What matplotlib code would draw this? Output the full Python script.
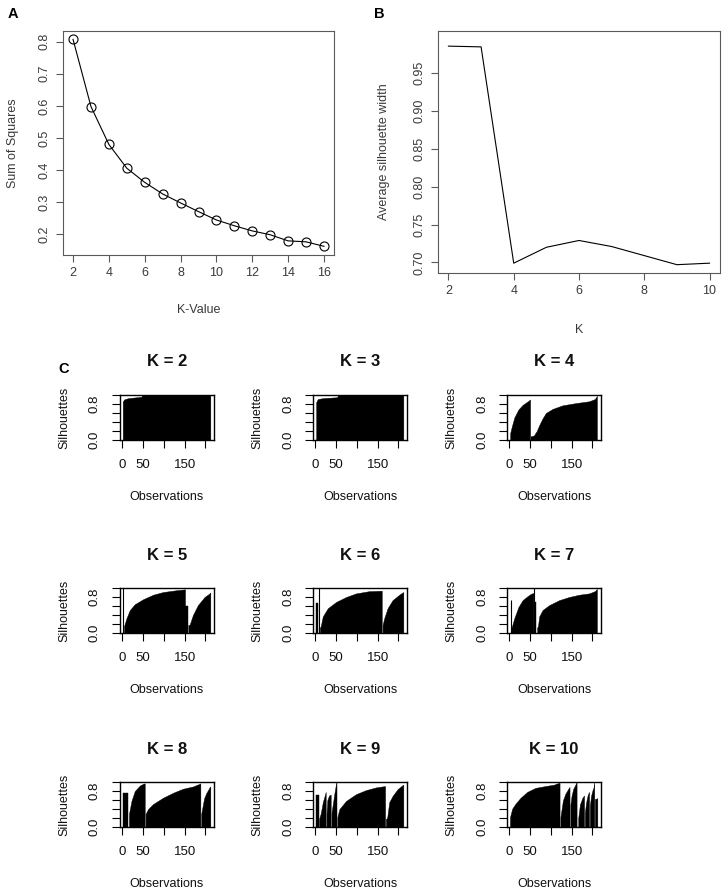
import matplotlib
matplotlib.use("Agg")
import matplotlib.pyplot as plt

plt.rcParams['font.family'] = ['Liberation Sans', 'DejaVu Sans']

# ---------------- data ----------------
# Panel A: elbow plot
k_values_A = [2, 3, 4, 5, 6, 7, 8, 9, 10, 11, 12, 13, 14, 15, 16]
sum_squares_A = [0.807, 0.598, 0.480, 0.406, 0.362, 0.326, 0.298, 0.271,
                 0.245, 0.227, 0.211, 0.199, 0.180, 0.177, 0.163]

# Panel B: average silhouette width
k_values_B = [2, 3, 4, 5, 6, 7, 8, 9, 10]
avg_sil_B = [0.986, 0.985, 0.699, 0.720, 0.729, 0.721, 0.709, 0.697, 0.699]

# Panel C: silhouette profiles (clusters of (observation, silhouette) points)
SIL_K2 = [
    [(1, 0.85), (4, 0.90), (14, 0.93), (46, 0.96), (47, 0.995), (212, 0.995)],
]
SIL_K3 = [
    [(2, 0.84), (6, 0.91), (18, 0.93), (53, 0.95), (54, 0.995), (212, 0.995)],
]
SIL_K4 = [
    [(2, 0.15), (6, 0.30), (12, 0.50), (22, 0.68), (32, 0.78), (46, 0.87), (50, 0.90)],
    [(51, 0.08), (59, 0.10), (66, 0.20), (72, 0.33), (80, 0.48), (88, 0.60), (104, 0.69),
     (128, 0.77), (160, 0.82), (192, 0.86), (206, 0.91), (211, 0.98)],
]
SIL_K5 = [
    [(2.5, 1.0)],
    [(4, 0.15), (10, 0.33), (18, 0.51), (30, 0.64), (50, 0.75), (74, 0.85), (98, 0.91),
     (130, 0.95), (151, 0.97)],
    [(152, 0.60), (157, 0.60)],
    [(159, 0.18), (162, 0.18), (170, 0.40), (182, 0.62), (198, 0.80), (210, 0.88), (212, 0.90)],
]
SIL_K6 = [
    [(2, 0.67), (6, 0.67)],
    [(9, 1.0)],
    [(11, 0.12), (13, 0.15), (18, 0.37), (30, 0.55), (50, 0.69), (74, 0.80), (98, 0.88),
     (130, 0.93), (160, 0.94)],
    [(162, 0.18), (166, 0.33), (174, 0.55), (186, 0.73), (202, 0.85), (210, 0.90), (212, 0.91)],
]
SIL_K7 = [
    [(3.5, 0.74)],
    [(5, 0.11), (12, 0.33), (22, 0.58), (32, 0.73), (44, 0.82), (52, 0.87), (58, 0.89)],
    [(59.5, 1.0)],
    [(60.5, 0.70), (65, 0.70)],
    [(67, 0.12), (69, 0.15), (72, 0.37), (80, 0.51), (96, 0.62), (120, 0.73), (144, 0.80),
     (168, 0.85), (192, 0.88), (206, 0.93), (211, 0.98)],
]
SIL_K8 = [
    [(2, 0.75), (14, 0.75)],
    [(16, 0.29), (22, 0.58), (30, 0.80), (42, 0.92), (50, 0.96), (54, 0.97)],
    [(56, 0.29), (62, 0.40), (74, 0.51), (98, 0.65), (122, 0.76), (146, 0.85), (170, 0.90),
     (186, 0.96), (188, 0.97)],
    [(190, 0.29), (197, 0.64), (202, 0.75), (210, 0.88), (212, 0.90)],
]
SIL_K9 = [
    [(2, 0.70), (8, 0.70)],
    [(9, 0.18), (13, 0.30), (18, 0.55), (22, 0.68), (25, 0.78)],
    [(27, 0.30), (29, 0.60), (33, 0.70), (37, 0.72)],
    [(39, 0.32), (42, 0.50), (46, 0.75), (50, 0.97), (51, 1.0)],
    [(53, 0.22), (58, 0.40), (74, 0.58), (98, 0.73), (122, 0.82), (146, 0.88), (168, 0.91)],
    [(170, 0.18), (173, 0.20), (178, 0.55), (186, 0.69), (198, 0.84), (210, 0.93), (212, 0.94)],
]
SIL_K10 = [
    [(1.6, 0.22), (7, 0.41), (15, 0.52), (27, 0.65), (43, 0.78), (63, 0.87), (87, 0.91),
     (107, 0.94), (119, 0.98), (121, 0.98)],
    [(123, 0.22), (126, 0.40), (129, 0.59), (135, 0.74), (142, 0.85), (145, 0.89)],
    [(147, 0.50), (150, 0.70), (154, 0.85), (158, 0.92), (162, 1.0)],
    [(166, 0.20), (170, 0.50), (176, 0.65), (180, 0.70)],
    [(182, 0.32), (185, 0.55), (189, 0.72), (192, 0.78)],
    [(194, 0.48), (197, 0.70), (201, 0.84), (203, 0.88), (204.5, 1.0)],
    [(206, 0.62), (212, 0.64)],
]
sil_panels = [("K = 2", SIL_K2), ("K = 3", SIL_K3), ("K = 4", SIL_K4),
              ("K = 5", SIL_K5), ("K = 6", SIL_K6), ("K = 7", SIL_K7),
              ("K = 8", SIL_K8), ("K = 9", SIL_K9), ("K = 10", SIL_K10)]

# ---------------- layout helpers ----------------
W, H = 724, 892
fig = plt.figure(figsize=(W / 100, H / 100), dpi=100)
PT = 72 / 100  # points per pixel


def add_box(left, top, width, height):
    return fig.add_axes([left / W, 1 - (top + height) / H, width / W, height / H])


GRAY_TXT = '#3a3a3a'
GRAY_LINE = '#5a5a5a'


def style_r(ax, color, lblcolor, size, tick_len_px, pad_px):
    for s in ax.spines.values():
        s.set_color(color)
        s.set_linewidth(0.8)
    ax.tick_params(direction='out', length=tick_len_px * PT, width=0.8, color=color,
                   labelcolor=lblcolor, labelsize=size, pad=pad_px * PT)
    for lab in ax.get_yticklabels():
        lab.set_rotation(90)
        lab.set_va('center')
        lab.set_ha('right')


# ---------------- Panel A ----------------
axA = add_box(63, 31, 271, 224)
axA.plot(k_values_A, sum_squares_A, color='black', lw=0.8, marker='o', mfc='none',
         mec='black', ms=6.5, mew=0.8)
axA.set_xlim(1.44, 16.56)
axA.set_ylim(0.136, 0.833)
axA.set_xticks([2, 4, 6, 8, 10, 12, 14, 16])
axA.set_yticks([0.2, 0.3, 0.4, 0.5, 0.6, 0.7, 0.8])
axA.set_yticklabels(['0.2', '0.3', '0.4', '0.5', '0.6', '0.7', '0.8'])
style_r(axA, GRAY_LINE, GRAY_TXT, 9, 7, 5)
axA.text(0.5, -55 / 224, 'K-Value', transform=axA.transAxes, ha='center', va='center',
         fontsize=9, color=GRAY_TXT)
axA.text(-50 / 271, 0.5, 'Sum of Squares', transform=axA.transAxes, ha='center',
         va='center', rotation=90, fontsize=9, color=GRAY_TXT)

# ---------------- Panel B ----------------
axB = add_box(438, 31, 282, 242)
axB.plot(k_values_B, avg_sil_B, color='black', lw=0.8)
axB.set_xlim(1.68, 10.32)
axB.set_ylim(0.686, 1.006)
axB.set_xticks([2, 4, 6, 8, 10])
axB.set_yticks([0.70, 0.75, 0.80, 0.85, 0.90, 0.95])
axB.set_yticklabels(['0.70', '0.75', '0.80', '0.85', '0.90', '0.95'])
style_r(axB, GRAY_LINE, GRAY_TXT, 9, 7, 5)
axB.text(0.5, -57 / 242, 'K', transform=axB.transAxes, ha='center', va='center',
         fontsize=9, color=GRAY_TXT)
axB.text(-54 / 282, 0.5, 'Average silhouette width', transform=axB.transAxes,
         ha='center', va='center', rotation=90, fontsize=9, color=GRAY_TXT)

# ---------------- Panel C ----------------
col_left = [120, 313, 507]
row_top = [395, 588, 782]
BW, BH = 94, 45
for i, (title, clusters) in enumerate(sil_panels):
    r, c = divmod(i, 3)
    ax = add_box(col_left[c], row_top[r], BW, BH)
    for cl in clusters:
        xs = [p[0] for p in cl]
        ys = [p[1] for p in cl]
        if len(cl) == 1:
            ax.vlines(xs, 0, ys, color='black', lw=0.8)
        else:
            ax.fill_between(xs, ys, 0, color='black', lw=0.3, edgecolor='black')
    ax.set_xlim(-5.6, 220.8)
    ax.set_ylim(0, 1)
    ax.set_xticks([0, 50, 100, 150, 200])
    ax.set_xticklabels(['0', '50', '', '150', ''])
    ax.set_yticks([0, 0.2, 0.4, 0.6, 0.8, 1.0])
    ax.set_yticklabels(['0.0', '', '', '', '0.8', ''])
    style_r(ax, 'black', '#111111', 9.5, 8, 11)
    for s in ax.spines.values():
        s.set_linewidth(1.0)
    ax.text(0.5, 1 + 33 / BH, title, transform=ax.transAxes, ha='center', va='center',
            fontsize=12, fontweight='bold', color='#111111')
    ax.text(0.5, -57 / BH, 'Observations', transform=ax.transAxes, ha='center',
            va='center', fontsize=9, color='#111111')
    ax.text(-56 / BW, 0.5, 'Silhouettes', transform=ax.transAxes, ha='center',
            va='center', rotation=90, fontsize=9, color='#111111')

# panel letters
fig.text(12.5 / W, 1 - 14.5 / H, 'A', ha='center', va='center', fontsize=10.5,
         fontweight='bold')
fig.text(379.5 / W, 1 - 14.5 / H, 'B', ha='center', va='center', fontsize=10.5,
         fontweight='bold')
fig.text(64 / W, 1 - 369 / H, 'C', ha='center', va='center', fontsize=10.5,
         fontweight='bold')

fig.savefig('out.png', dpi=100, facecolor='white')
